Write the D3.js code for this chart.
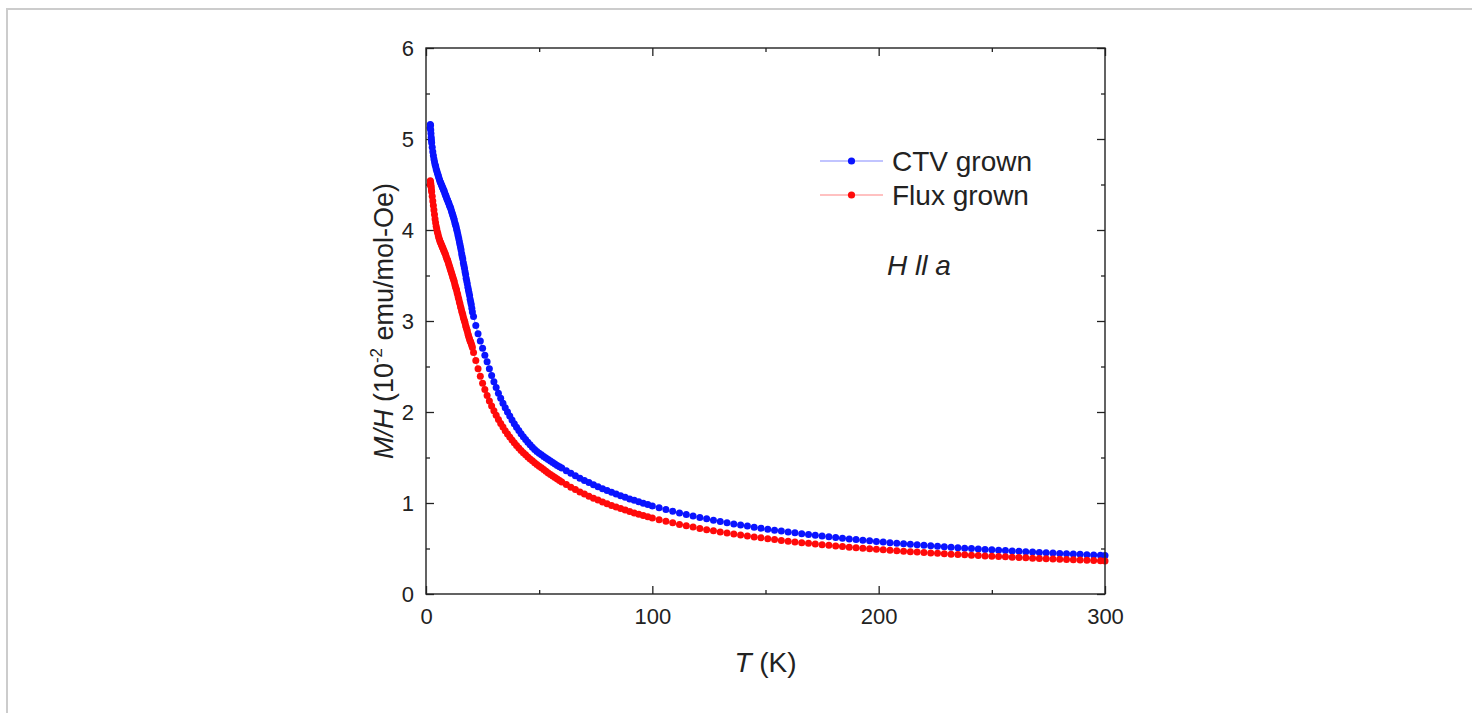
<!DOCTYPE html>
<html>
<head>
<meta charset="utf-8">
<script src="https://cdn.jsdelivr.net/npm/d3@7"></script>
<style>
  html, body { margin: 0; padding: 0; background: #fff; overflow: hidden; }
  #frame { position: absolute; left: 6px; top: 8px; width: 1500px; height: 800px; border: 2px solid #cccccc; box-sizing: border-box; }
  svg { position: absolute; left: 0; top: 0; }
  text { font-family: "Liberation Sans", Arial, Helvetica, sans-serif; fill: #222; }
</style>
</head>
<body>
<div id="frame"></div>
<svg id="chart" width="1472" height="713"></svg>
<script>
// Temperature (K), shared by both samples
const temperature = [
  1.8, 1.9, 2.0, 2.1, 2.2, 2.3, 2.4,
  2.5, 2.75, 3, 3.25, 3.5, 3.75, 4, 4.25, 4.5, 4.75,
  5, 5.25, 5.5, 5.75, 6, 6.25, 6.5, 6.75, 7, 7.25,
  7.5, 7.75, 8, 8.25, 8.5, 8.75, 9, 9.25, 9.5, 9.75,
  10, 10.25, 10.5, 10.75, 11, 11.25, 11.5, 11.75, 12, 12.25,
  12.5, 12.75, 13, 13.25, 13.5, 13.75, 14, 14.25, 14.5, 14.75,
  15, 15.25, 15.5, 15.75, 16, 16.25, 16.5, 16.75, 17, 17.25,
  17.5, 17.75, 18, 18.25, 18.5, 18.75, 19, 19.25, 19.5, 19.75,
  20, 20.25, 20.5,
  21, 22, 23, 24, 25, 26, 27, 28, 29, 30,
  31, 32, 33, 34, 35, 36, 37, 38, 39, 40,
  41, 42, 43, 44, 45, 46, 47, 48, 49, 50,
  51, 52, 53, 54, 55, 56, 57, 58, 59, 60,
  62, 64, 66, 68, 70, 72, 74, 76, 78, 80,
  82, 84, 86, 88, 90, 92, 94, 96, 98, 100,
  103, 106, 109, 112, 115, 118, 121, 124, 127, 130,
  133, 136, 139, 142, 145, 148, 151, 154, 157, 160,
  163, 166, 169, 172, 175, 178, 181, 184, 187, 190,
  193, 196, 199, 202, 205, 208, 211, 214, 217, 220,
  223, 226, 229, 232, 235, 238, 241, 244, 247, 250,
  253, 256, 259, 262, 265, 268, 271, 274, 277, 280,
  283, 286, 289, 292, 295, 298, 300
];

// M/H (10^-2 emu/mol-Oe), CTV grown
const ctvValues = [
  5.12, 5.16, 5.15, 5.10, 5.06, 5.02, 4.99,
  4.96, 4.91, 4.86, 4.82, 4.78, 4.75, 4.72, 4.70, 4.67, 4.65,
  4.63, 4.61, 4.59, 4.57, 4.55, 4.53, 4.52, 4.50, 4.49, 4.47,
  4.46, 4.44, 4.43, 4.41, 4.39, 4.38, 4.36, 4.34, 4.33, 4.31,
  4.30, 4.28, 4.26, 4.25, 4.23, 4.21, 4.19, 4.17, 4.15, 4.13,
  4.11, 4.08, 4.06, 4.04, 4.01, 3.99, 3.96, 3.93, 3.90, 3.87,
  3.84, 3.81, 3.78, 3.74, 3.71, 3.68, 3.64, 3.61, 3.58, 3.54,
  3.51, 3.47, 3.44, 3.41, 3.37, 3.34, 3.31, 3.28, 3.24, 3.21,
  3.18, 3.14, 3.10,
  3.05, 2.95, 2.86, 2.78, 2.70, 2.625, 2.553, 2.475, 2.401, 2.332,
  2.268, 2.207, 2.151, 2.097, 2.047, 2.000, 1.955, 1.912, 1.872, 1.833,
  1.797, 1.762, 1.729, 1.697, 1.667, 1.639, 1.613, 1.589, 1.567, 1.548,
  1.530, 1.512, 1.495, 1.478, 1.462, 1.445, 1.429, 1.413, 1.398, 1.384,
  1.355, 1.326, 1.299, 1.273, 1.248, 1.224, 1.201, 1.179, 1.157, 1.137,
  1.117, 1.098, 1.080, 1.062, 1.045, 1.029, 1.013, 0.998, 0.983, 0.968,
  0.948, 0.928, 0.909, 0.891, 0.874, 0.857, 0.841, 0.826, 0.811, 0.797,
  0.784, 0.770, 0.758, 0.746, 0.734, 0.723, 0.712, 0.701, 0.691, 0.681,
  0.672, 0.663, 0.654, 0.645, 0.637, 0.628, 0.620, 0.613, 0.605, 0.598,
  0.591, 0.584, 0.577, 0.571, 0.564, 0.558, 0.552, 0.546, 0.541, 0.535,
  0.530, 0.524, 0.519, 0.514, 0.509, 0.504, 0.499, 0.495, 0.490, 0.486,
  0.481, 0.477, 0.473, 0.469, 0.465, 0.461, 0.457, 0.453, 0.450, 0.446,
  0.443, 0.439, 0.436, 0.432, 0.429, 0.426, 0.424
];

// M/H (10^-2 emu/mol-Oe), Flux grown
const fluxValues = [
  4.50, 4.54, 4.53, 4.51, 4.49, 4.47, 4.44,
  4.42, 4.37, 4.32, 4.27, 4.22, 4.17, 4.12, 4.08, 4.04, 4.01,
  3.98, 3.96, 3.93, 3.91, 3.89, 3.87, 3.86, 3.84, 3.83, 3.81,
  3.80, 3.78, 3.77, 3.75, 3.74, 3.72, 3.70, 3.68, 3.67, 3.65,
  3.63, 3.61, 3.59, 3.57, 3.55, 3.53, 3.51, 3.49, 3.47, 3.45,
  3.43, 3.40, 3.38, 3.36, 3.34, 3.31, 3.29, 3.26, 3.24, 3.21,
  3.19, 3.16, 3.14, 3.11, 3.09, 3.07, 3.04, 3.02, 3.00, 2.98,
  2.95, 2.93, 2.91, 2.89, 2.86, 2.84, 2.82, 2.80, 2.78, 2.77,
  2.75, 2.73, 2.71,
  2.655, 2.566, 2.475, 2.393, 2.317, 2.247, 2.182, 2.121, 2.065, 2.013,
  1.964, 1.918, 1.874, 1.834, 1.795, 1.759, 1.725, 1.693, 1.662, 1.633,
  1.605, 1.578, 1.553, 1.529, 1.506, 1.484, 1.463, 1.442, 1.423, 1.404,
  1.387, 1.369, 1.349, 1.331, 1.313, 1.296, 1.279, 1.263, 1.247, 1.232,
  1.202, 1.174, 1.148, 1.122, 1.098, 1.075, 1.053, 1.032, 1.011, 0.992,
  0.973, 0.956, 0.939, 0.922, 0.906, 0.891, 0.876, 0.862, 0.849, 0.835,
  0.817, 0.799, 0.782, 0.765, 0.750, 0.735, 0.721, 0.707, 0.694, 0.682,
  0.670, 0.658, 0.647, 0.637, 0.626, 0.617, 0.607, 0.598, 0.589, 0.581,
  0.572, 0.564, 0.557, 0.549, 0.542, 0.535, 0.528, 0.522, 0.515, 0.509,
  0.503, 0.497, 0.492, 0.486, 0.481, 0.475, 0.470, 0.465, 0.461, 0.456,
  0.451, 0.447, 0.442, 0.438, 0.434, 0.430, 0.426, 0.422, 0.418, 0.415,
  0.411, 0.408, 0.404, 0.401, 0.397, 0.394, 0.391, 0.388, 0.385, 0.382,
  0.379, 0.376, 0.373, 0.371, 0.368, 0.365, 0.363
];

const seriesNames = ["CTV grown", "Flux grown"];
const seriesColors = ["#0a14ff", "#ff0a0a"];
const xMajorTicks = [0, 100, 200, 300];
const xMinorTicks = [50, 150, 250];
const yMajorTicks = [0, 1, 2, 3, 4, 5, 6];
const yMinorTicks = [0.5, 1.5, 2.5, 3.5, 4.5, 5.5];

const svg = d3.select("#chart");
const plot = { left: 426, right: 1105, top: 48, bottom: 594 };

const x = d3.scaleLinear().domain([0, 300]).range([plot.left, plot.right]);
const y = d3.scaleLinear().domain([0, 6]).range([plot.bottom, plot.top]);

const tickFont = 22;
function styleAxis(g) {
  g.select(".domain").remove();
  g.selectAll(".tick line").attr("stroke", "#222").attr("stroke-width", 1.3);
  g.selectAll(".tick text").attr("font-size", tickFont).attr("fill", "#222")
    .attr("font-family", "'Liberation Sans', Arial, sans-serif");
}

// bottom
svg.append("g").attr("transform", `translate(0,${plot.bottom})`)
  .call(d3.axisBottom(x).tickValues(xMajorTicks).tickSize(-8).tickPadding(14).tickFormat(d3.format("d")))
  .call(styleAxis);
svg.append("g").attr("transform", `translate(0,${plot.bottom})`)
  .call(d3.axisBottom(x).tickValues(xMinorTicks).tickSize(-4).tickFormat(""))
  .call(styleAxis);
// top
svg.append("g").attr("transform", `translate(0,${plot.top})`)
  .call(d3.axisTop(x).tickValues(xMajorTicks).tickSize(-8).tickFormat(""))
  .call(styleAxis);
svg.append("g").attr("transform", `translate(0,${plot.top})`)
  .call(d3.axisTop(x).tickValues(xMinorTicks).tickSize(-4).tickFormat(""))
  .call(styleAxis);
// left
svg.append("g").attr("transform", `translate(${plot.left},0)`)
  .call(d3.axisLeft(y).tickValues(yMajorTicks).tickSize(-8).tickPadding(12).tickFormat(d3.format("d")))
  .call(styleAxis);
svg.append("g").attr("transform", `translate(${plot.left},0)`)
  .call(d3.axisLeft(y).tickValues(yMinorTicks).tickSize(-4).tickFormat(""))
  .call(styleAxis);
// right
svg.append("g").attr("transform", `translate(${plot.right},0)`)
  .call(d3.axisRight(y).tickValues(yMajorTicks).tickSize(-8).tickFormat(""))
  .call(styleAxis);
svg.append("g").attr("transform", `translate(${plot.right},0)`)
  .call(d3.axisRight(y).tickValues(yMinorTicks).tickSize(-4).tickFormat(""))
  .call(styleAxis);

// data
const seriesValues = [ctvValues, fluxValues];
const dataG = svg.append("g");
seriesValues.forEach((vals, i) => {
  const pts = temperature.map((t, k) => ({ t, v: vals[k] }));
  dataG.append("path")
    .datum(pts)
    .attr("fill", "none")
    .attr("stroke", seriesColors[i])
    .attr("stroke-opacity", 0.45)
    .attr("stroke-width", 1)
    .attr("d", d3.line().x(d => x(d.t)).y(d => y(d.v)));
  dataG.append("g").selectAll("circle").data(pts).join("circle")
    .attr("cx", d => x(d.t))
    .attr("cy", d => y(d.v))
    .attr("r", 3.5)
    .attr("fill", seriesColors[i]);
});

// frame
svg.append("rect")
  .attr("x", plot.left).attr("y", plot.top)
  .attr("width", plot.right - plot.left).attr("height", plot.bottom - plot.top)
  .attr("fill", "none").attr("stroke", "#222").attr("stroke-width", 1.4);

// axis titles
const titleFont = 28;
const xt = svg.append("text")
  .attr("x", (plot.left + plot.right) / 2).attr("y", 672)
  .attr("text-anchor", "middle").attr("font-size", titleFont);
xt.append("tspan").attr("font-style", "italic").text("T");
xt.append("tspan").text(" (K)");

const yt = svg.append("text")
  .attr("transform", `translate(393,${(plot.top + plot.bottom) / 2}) rotate(-90)`)
  .attr("text-anchor", "middle").attr("font-size", titleFont - 1);
yt.append("tspan").attr("font-style", "italic").text("M/H");
yt.append("tspan").text(" (10");
yt.append("tspan").attr("font-size", 17).attr("dy", -11).text("-2");
yt.append("tspan").attr("dy", 11).text(" emu/mol-Oe)");

// legend
const legendX = 820, legendLen = 63, legendY = [161, 195];
seriesNames.forEach((name, i) => {
  const ly = legendY[i];
  svg.append("line")
    .attr("x1", legendX).attr("x2", legendX + legendLen)
    .attr("y1", ly).attr("y2", ly)
    .attr("stroke", seriesColors[i]).attr("stroke-opacity", 0.5).attr("stroke-width", 1.2);
  svg.append("circle")
    .attr("cx", legendX + legendLen / 2).attr("cy", ly).attr("r", 3.6)
    .attr("fill", seriesColors[i]);
  svg.append("text")
    .attr("x", 892).attr("y", ly + 10)
    .attr("font-size", titleFont).text(name);
});

svg.append("text")
  .attr("x", 887).attr("y", 275)
  .attr("font-size", titleFont).attr("font-style", "italic")
  .text("H ll a");
</script>
</body>
</html>
